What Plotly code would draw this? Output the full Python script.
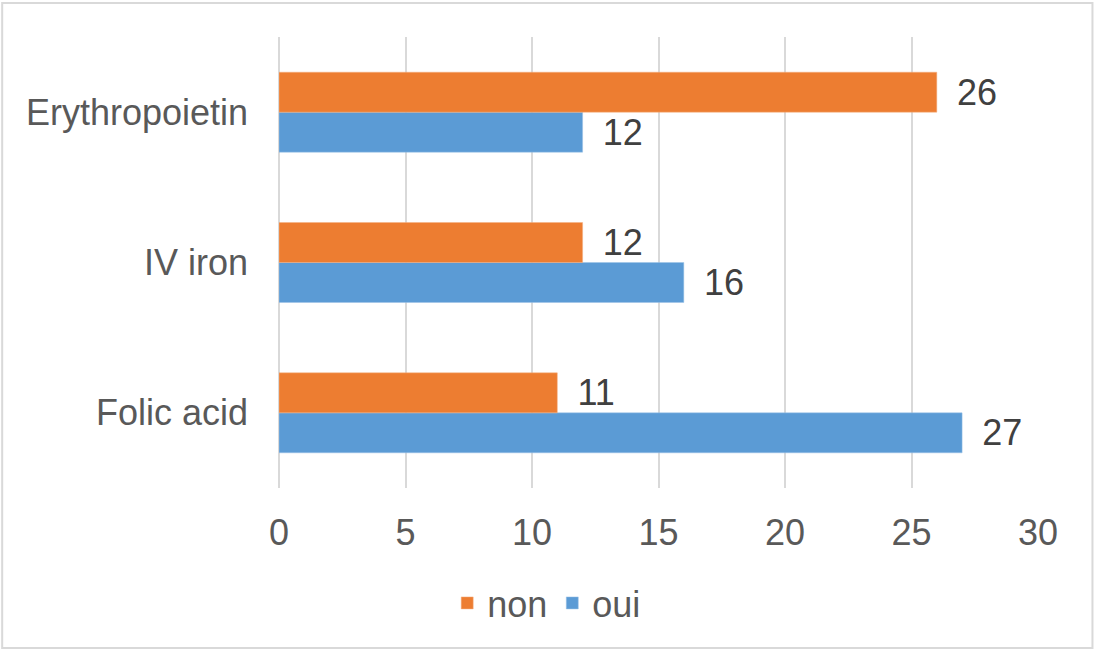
import plotly.graph_objects as go

categories = ["Folic acid", "IV iron", "Erythropoietin"]
non_values = [11, 12, 26]
oui_values = [27, 16, 12]
x_ticks = [0, 5, 10, 15, 20, 25, 30]

FONT = "Liberation Sans, Arial, sans-serif"
ORANGE = "#ED7D31"
BLUE = "#5B9BD5"
GRID = "#D9D9D9"
FS = 36

fig = go.Figure()
fig.add_trace(go.Bar(
    y=categories, x=oui_values, name="oui", orientation="h",
    marker=dict(color=BLUE, line=dict(color="#9DC3E6", width=0.5)),
    text=oui_values, texttemplate="\u00a0\u2009%{x}", textposition="outside",
    textfont=dict(family=FONT, size=FS, color="#404040"),
    constraintext="none", cliponaxis=False,
))
fig.add_trace(go.Bar(
    y=categories, x=non_values, name="non", orientation="h",
    marker=dict(color=ORANGE, line=dict(color="#F4B183", width=0.5)),
    text=non_values, texttemplate="\u00a0\u2009%{x}", textposition="outside",
    textfont=dict(family=FONT, size=FS, color="#404040"),
    constraintext="none", cliponaxis=False,
))

L, R, T, B = 279, 61.5, 37, 167
W, H = 1100, 655
pw = W - L - R
ph = H - T - B

fig.update_layout(
    width=W, height=H, autosize=False,
    margin=dict(l=L, r=R, t=T, b=B),
    paper_bgcolor="white", plot_bgcolor="white",
    barmode="group", bargap=0.468, bargroupgap=0,
    font=dict(family=FONT, size=FS, color="#595959"),
    showlegend=True,
    legend=dict(
        orientation="h", traceorder="reversed",
        xref="container", yref="container",
        x=0.497, xanchor="center", y=1 - 603 / 655, yanchor="middle",
        font=dict(family=FONT, size=FS, color="#595959"),
        itemwidth=30, bgcolor="rgba(0,0,0,0)",
    ),
    xaxis=dict(
        range=[0, 30], tickvals=x_ticks, showgrid=True, gridcolor=GRID, gridwidth=1.5,
        zeroline=True, zerolinecolor=GRID, zerolinewidth=1.5, showline=False,
        ticks="", ticklabelstandoff=20,
        tickfont=dict(family=FONT, size=FS, color="#595959"),
    ),
    yaxis=dict(
        categoryorder="array", categoryarray=categories,
        showgrid=False, zeroline=False, showline=False, ticks="",
        ticklabelstandoff=30,
        tickfont=dict(family=FONT, size=FS, color="#595959"),
    ),
    shapes=[dict(
        type="rect", xref="paper", yref="paper",
        x0=(2 - L) / pw, x1=(1093 - L) / pw,
        y0=(H - B - 648) / ph, y1=(H - B - 3) / ph,
        line=dict(color="#D9D9D9", width=2), fillcolor="rgba(0,0,0,0)", layer="below",
    )],
)

fig.write_html("out.html", config={"displayModeBar": False},
               post_script="document.body.style.margin='0';")
